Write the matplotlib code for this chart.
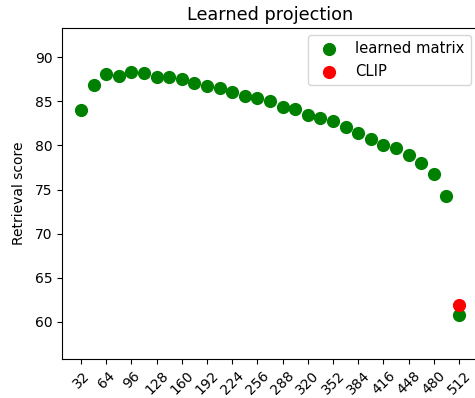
import numpy as np
import matplotlib
matplotlib.use("Agg")
import matplotlib.pyplot as plt

# projection dimensions
dims = list(range(32, 512, 16))
scores = [84.0, 86.8, 88.1, 87.9, 88.3, 88.2, 87.8, 87.7, 87.5, 87.1,
          86.7, 86.5, 86.0, 85.6, 85.4, 85.0, 84.4, 84.1, 83.5, 83.1,
          82.75, 82.1, 81.4, 80.75, 80.1, 79.7, 78.9, 78.0, 76.8, 74.3]

# full dimension
full_dim = 512
full_score = 60.8
clip_score = 61.9

xticks = list(range(32, 513, 32))

fig = plt.figure(figsize=(4.75, 3.98), dpi=100)
# the right spine sits just past the image edge, as in the reference
ax = fig.add_axes([62 / 475, 1 - 359 / 398, 416 / 475, 331 / 398])

ax.scatter(dims + [full_dim], scores + [full_score], s=72, color='green',
           label='learned matrix')
ax.scatter([full_dim], [clip_score], s=72, color='red', label='CLIP')

ax.set_xticks(xticks)
ax.set_xticklabels([str(t) for t in xticks], rotation=45)
ax.set_xlim(8, 536)
ax.set_ylim(55.8, 93.3)
ax.set_ylabel('Retrieval score', labelpad=6)
ax.set_title('Learned projection', fontsize=12.7)
ax.legend(loc='upper right', fontsize=10.6)

fig.savefig('out.png', dpi=100)
